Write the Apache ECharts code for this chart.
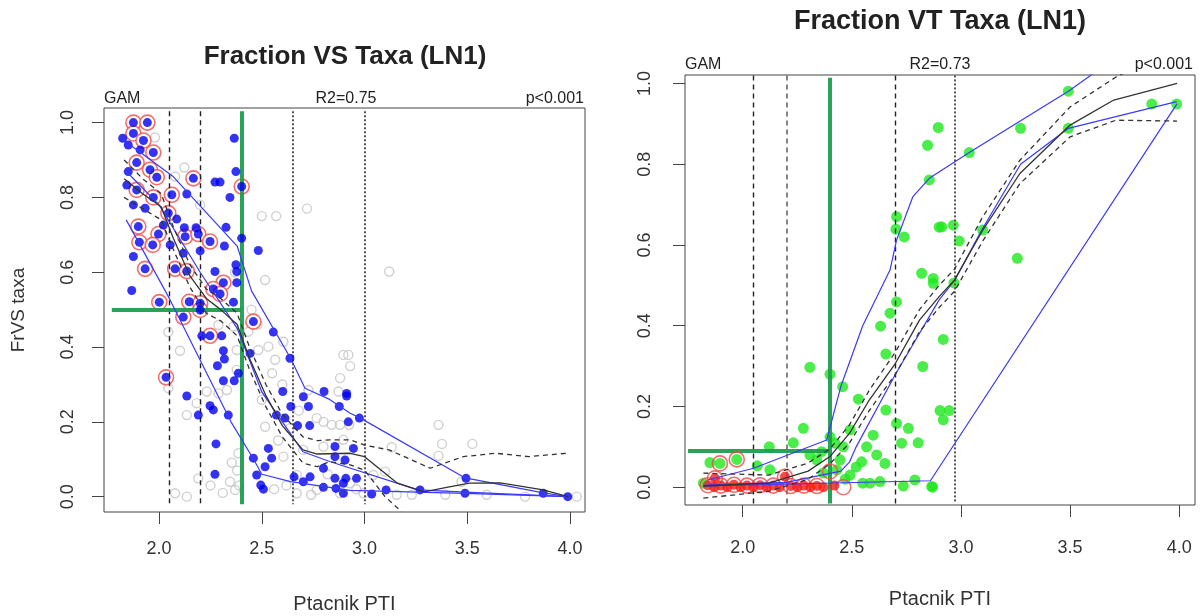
<!DOCTYPE html>
<html>
<head>
<meta charset="utf-8">
<title>Fraction VS / VT Taxa (LN1)</title>
<script src="https://cdn.jsdelivr.net/npm/echarts@6/dist/echarts.min.js"></script>
<style>
  html, body { margin: 0; padding: 0; background: #fff; }
  #chart { width: 1202px; height: 616px; }
</style>
</head>
<body>
<div id="chart"></div>
<script>
  // ---- data ----
  const xTicks = [2.0, 2.5, 3.0, 3.5, 4.0]
  const yTicks = [0.0, 0.2, 0.4, 0.6, 0.8, 1.0]

  // left panel: Fraction VS Taxa
  const vsGray = [[1.98,0.96],[2.123,0.88],[2.078,0.856],[2.5,0.75],[2.57,0.75],[2.72,0.77],[2.516,0.579],[2.37,0.6],[2.2,0.78],[3.12,0.602],
    [2.045,0.44],[2.102,0.39],[2.045,0.29],[2.135,0.218],[2.183,0.25],[2.232,0.281],[2.289,0.276],[2.33,0.285],[2.378,0.339],[2.378,0.392],
    [2.289,0.459],[2.362,0.455],[2.435,0.441],[2.5,0.259],[2.532,0.401],[2.565,0.366],[2.605,0.414],[2.483,0.392],[2.386,0.116],[2.354,0.091],
    [2.345,0.04],[2.37,0.018],[2.191,0.049],[2.078,0.009],[2.135,0.0],[2.516,0.187],[2.637,0.183],[2.767,0.21],[2.8,0.2],[2.881,0.192],
    [2.881,0.317],[2.921,0.379],[2.727,0.285],[2.67,0.058],[2.67,0.009],[2.767,0.018],[2.881,0.009],[2.8,0.134],[2.702,0.125],[2.605,0.107],
    [2.897,0.379],[2.93,0.349],[2.873,0.281],[2.84,0.192],[2.925,0.192],[2.897,0.152],[3.132,0.132],[3.043,0.058],[3.1,0.067],[3.157,0.005],
    [3.23,0.005],[3.393,0.005],[3.36,0.192],[3.377,0.141],[3.36,0.109],[3.525,0.141],[3.472,0.04],[3.595,0.005],[3.781,0.0],[4.033,0.0],
    [2.995,0.009],[2.93,0.036],[2.38,0.07],[2.39,0.03],[2.31,0.01],[2.25,0.03],[2.45,0.5],[2.48,0.46],[2.55,0.33],[2.6,0.3],
    [2.56,0.02],[2.62,0.03],[2.74,0.005],[2.82,0.06],[2.96,0.02],[2.58,0.15],[2.68,0.23]]
  const vsBlue = [[1.875,1.0],[1.943,1.0],[1.823,0.958],[1.875,0.971],[1.924,0.952],[1.85,0.94],[1.908,0.927],[1.972,0.92],[2.366,0.958],
    [1.891,0.893],[1.956,0.874],[1.989,0.854],[1.85,0.869],[2.167,0.851],[2.272,0.841],[2.297,0.841],[2.374,0.869],[2.402,0.829],
    [1.891,0.82],[1.843,0.833],[2.345,0.8],[1.972,0.8],[2.062,0.807],[2.135,0.809],[1.875,0.78],[1.932,0.771],[2.045,0.758],[2.086,0.742],
    [1.899,0.722],[2.021,0.726],[2.123,0.719],[2.18,0.719],[2.326,0.72],[1.997,0.702],[2.127,0.695],[2.191,0.702],[2.248,0.682],[1.904,0.68],
    [1.969,0.673],[2.054,0.673],[2.402,0.691],[2.318,0.67],[2.483,0.658],[1.875,0.642],[2.118,0.651],[2.2,0.657],[2.374,0.62],[1.932,0.609],
    [2.078,0.609],[2.135,0.603],[2.272,0.602],[2.378,0.602],[1.867,0.551],[2.313,0.572],[2.264,0.555],[2.297,0.542],[2.378,0.572],[2.001,0.52],
    [2.147,0.521],[2.2,0.517],[2.362,0.52],[2.118,0.48],[2.2,0.499],[2.459,0.468],[2.248,0.43],[2.305,0.43],[2.208,0.43],[2.556,0.44],
    [2.313,0.39],[2.318,0.368],[2.284,0.35],[2.637,0.37],[2.386,0.33],[2.313,0.31],[2.366,0.31],[2.034,0.319],[2.135,0.269],[2.248,0.243],
    [2.264,0.232],[2.191,0.218],[2.337,0.218],[2.277,0.141],[2.272,0.06],[2.443,0.383],[2.602,0.281],[2.641,0.241],[2.702,0.267],[2.727,0.241],
    [2.803,0.281],[2.733,0.19],[2.674,0.19],[2.571,0.218],[2.613,0.21],[2.877,0.241],[2.913,0.269],[2.532,0.129],[2.548,0.103],[2.516,0.08],
    [2.459,0.103],[2.475,0.058],[2.495,0.031],[2.508,0.02],[2.657,0.053],[2.702,0.04],[2.735,0.053],[2.8,0.076],[2.856,0.107],[2.861,0.022],
    [2.8,0.025],[2.897,0.036],[2.975,0.21],[2.913,0.276],[2.921,0.2],[2.856,0.134],[2.946,0.129],[2.905,0.098],[2.856,0.049],[2.909,0.049],
    [2.961,0.049],[2.897,0.009],[3.035,0.007],[3.105,0.018],[3.27,0.018],[3.494,0.049],[3.489,0.009],[3.87,0.009],[3.989,0.0]]
  const vsRing = [[1.875,1.0],[1.943,1.0],[1.875,0.971],[1.924,0.952],[1.972,0.92],[1.891,0.893],[1.956,0.874],[1.989,0.854],[2.167,0.851],
    [2.402,0.829],[1.891,0.82],[1.972,0.8],[2.062,0.807],[2.045,0.758],[1.899,0.722],[1.997,0.702],[2.127,0.695],[2.191,0.702],[2.248,0.682],
    [1.904,0.68],[1.969,0.673],[1.932,0.609],[2.078,0.609],[2.135,0.603],[2.313,0.572],[2.264,0.555],[2.297,0.542],[2.001,0.52],[2.147,0.521],
    [2.2,0.517],[2.118,0.48],[2.2,0.499],[2.459,0.468],[2.248,0.43],[2.034,0.319]]
  const vsGam = [[1.83,0.85],[1.92,0.81],[2.01,0.775],[2.07,0.69],[2.15,0.59],[2.23,0.53],[2.3,0.5],[2.38,0.46],[2.44,0.37],[2.52,0.27],
    [2.6,0.19],[2.7,0.125],[2.77,0.114],[2.93,0.116],[3.0,0.107],[3.16,0.036],[3.29,0.013],[3.4,0.025],[3.51,0.036],[3.66,0.037],[3.87,0.018],[3.99,0.0]]
  const vsGamUp = [[1.83,0.9],[1.92,0.85],[2.01,0.81],[2.07,0.72],[2.15,0.62],[2.23,0.555],[2.3,0.53],[2.38,0.49],[2.44,0.4],[2.52,0.3],
    [2.6,0.22],[2.7,0.16],[2.77,0.15],[2.83,0.152],[2.93,0.152],[3.0,0.138],[3.12,0.125],[3.32,0.076],[3.48,0.107],[3.64,0.116],[3.8,0.107],[3.98,0.116]]
  const vsGamLo = [[1.83,0.8],[1.92,0.77],[2.01,0.74],[2.07,0.66],[2.15,0.56],[2.23,0.49],[2.3,0.47],[2.38,0.43],[2.44,0.34],[2.52,0.24],
    [2.6,0.16],[2.7,0.09],[2.77,0.08],[2.83,0.094],[2.93,0.085],[3.0,0.071],[3.1,0.0],[3.18,-0.04]]
  const vsQHigh = [[1.86,0.94],[2.07,0.855],[2.38,0.67],[2.45,0.55],[2.64,0.37],[2.71,0.29],[2.83,0.26],[2.93,0.223],[2.98,0.21],[3.49,0.05],[3.87,0.01],[3.99,0.0]]
  const vsQMid = [[1.84,0.87],[2.0,0.78],[2.2,0.6],[2.38,0.45],[2.5,0.28],[2.6,0.2],[2.7,0.12],[2.83,0.094],[3.26,0.018],[3.49,0.012],[3.99,0.0]]
  const vsQLow = [[1.84,0.74],[2.05,0.53],[2.35,0.2],[2.46,0.1],[2.5,0.06],[2.64,0.04],[2.93,0.017],[3.49,0.009],[3.99,0.0]]
  const vsDashed = [2.05, 2.2]
  const vsDotted = [2.65, 3.0]
  const vsThreshold = [2.4, 0.5]

  // right panel: Fraction VT Taxa
  const vtGreen = [[2.896,0.891],[2.847,0.847],[2.855,0.761],[2.705,0.67],[2.702,0.639],[2.74,0.62],[2.9,0.644],[2.82,0.53],[2.873,0.517],
    [2.873,0.505],[2.705,0.459],[2.675,0.431],[2.632,0.399],[2.656,0.33],[2.825,0.299],[2.308,0.297],[2.4,0.28],[2.458,0.249],[2.53,0.218],
    [2.656,0.191],[2.705,0.158],[2.759,0.146],[2.804,0.11],[2.728,0.109],[2.598,0.129],[2.568,0.1],[2.614,0.08],[2.545,0.063],[2.652,0.059],
    [2.492,0.03],[2.278,0.146],[2.232,0.11],[2.122,0.1],[2.067,0.053],[2.125,0.043],[1.85,0.061],[1.973,0.069],[1.896,0.059],[1.82,0.01],
    [2.4,0.125],[2.423,0.109],[2.461,0.1],[2.492,0.142],[2.362,0.088],[2.308,0.08],[2.339,0.068],[2.446,0.068],[2.431,0.043],[2.369,0.035],
    [2.629,0.014],[2.736,0.003],[2.789,0.018],[2.866,0.002],[2.583,0.01],[3.492,0.981],[3.874,0.949],[3.988,0.949],[3.492,0.889],[3.273,0.889],
    [3.038,0.829],[2.912,0.645],[2.965,0.649],[2.992,0.61],[3.099,0.637],[3.258,0.567],[2.968,0.506],[2.919,0.366],[2.904,0.19],[2.946,0.19],
    [2.919,0.167],[2.87,0.0],[2.52,0.05],[2.47,0.02],[2.55,0.01]]
  const vtRed = [[1.84,0.005],[1.87,0.0],[1.9,0.004],[1.93,0.0],[1.96,0.006],[1.99,0.0],[2.02,0.004],[2.05,0.0],[2.08,0.005],[2.11,0.0],
    [2.14,0.004],[2.17,0.0],[2.22,0.003],[2.25,0.0],[2.28,0.004],[2.31,0.0],[2.34,0.003],[2.37,0.0],[2.42,0.004],[1.873,0.022],[2.194,0.026]]
  const vtRing = [[1.873,0.022],[1.896,0.059],[1.973,0.069],[1.84,0.005],[1.9,0.004],[1.96,0.006],[2.02,0.004],[2.08,0.005],[2.14,0.004],
    [2.194,0.026],[2.22,0.003],[2.28,0.004],[2.34,0.003],[2.4,0.039],[2.461,0.0]]
  const vtGam = [[1.82,0.003],[2.12,0.01],[2.3,0.04],[2.4,0.076],[2.49,0.134],[2.58,0.216],[2.7,0.307],[2.81,0.414],[2.9,0.472],[2.97,0.513],
    [3.1,0.637],[3.27,0.777],[3.5,0.897],[3.7,0.959],[3.99,1.0]]
  const vtGamUp = [[1.82,0.035],[2.12,0.03],[2.3,0.06],[2.4,0.095],[2.49,0.155],[2.58,0.24],[2.7,0.335],[2.81,0.44],[2.9,0.5],[2.97,0.54],
    [3.1,0.67],[3.27,0.81],[3.5,0.942],[3.71,1.016],[3.8,1.04]]
  const vtGamLo = [[1.82,-0.027],[2.12,-0.01],[2.3,0.02],[2.4,0.058],[2.49,0.11],[2.58,0.19],[2.7,0.28],[2.81,0.385],[2.9,0.445],[2.97,0.485],
    [3.1,0.61],[3.27,0.752],[3.5,0.868],[3.71,0.909],[3.99,0.907]]
  const vtQHigh = [[1.84,0.018],[2.05,0.047],[2.385,0.117],[2.45,0.25],[2.55,0.4],[2.675,0.538],[2.705,0.612],[2.78,0.72],[2.855,0.765],
    [3.038,0.829],[3.492,0.981],[3.62,1.03]]
  const vtQMid = [[1.83,0.005],[2.2,0.012],[2.45,0.04],[2.49,0.063],[2.52,0.1],[2.7,0.28],[2.9,0.464],[2.972,0.513],[3.095,0.637],
    [3.273,0.8],[3.492,0.889],[3.988,0.955]]
  const vtQLow = [[1.82,0.003],[2.86,0.016],[3.99,0.95]]
  const vtDashed = [2.05, 2.7]
  const vtDashedGray = [2.2]
  const vtDotted = [2.97]
  const vtThreshold = [2.4, 0.09]

  // ---- chart ----
  const FONT = '"Liberation Sans", Arial, sans-serif'
  const BLUE_LINE = '#3a3aff'
  const GREEN_REF = '#1e9e4e'
  const chart = echarts.init(document.getElementById('chart'), null, { renderer: 'canvas' })

  function xAxisOf(grid, min, max, nameGap, margin){
    return {
      type: 'value', gridIndex: grid, min: min, max: max, position: 'bottom',
      name: 'Ptacnik PTI', nameLocation: 'middle', nameGap: nameGap,
      nameTextStyle: { fontSize: 20, color: '#333', fontFamily: FONT },
      axisLine: { show: false, onZero: false },
      axisTick: { show: true, inside: false, length: 12, customValues: xTicks, lineStyle: { color: '#444' } },
      axisLabel: { customValues: xTicks, margin: margin, fontSize: 18, color: '#333', fontFamily: FONT,
        formatter: v => v.toFixed(1) },
      splitLine: { show: false }
    }
  }
  function yAxisOf(grid, min, max, margin, name){
    return {
      type: 'value', gridIndex: grid, min: min, max: max, position: 'left',
      name: name, nameLocation: 'middle', nameGap: 76, nameRotate: 90,
      nameTextStyle: { fontSize: 19, color: '#333', fontFamily: FONT },
      axisLine: { show: false, onZero: false },
      axisTick: { show: true, inside: false, length: 12, customValues: yTicks, lineStyle: { color: '#444' } },
      axisLabel: { customValues: yTicks, margin: margin, fontSize: 18, color: '#333', fontFamily: FONT, rotate: 90,
        formatter: v => v.toFixed(1) },
      splitLine: { show: false }
    }
  }

  // vertical / horizontal reference lines as markLines
  function refLines(cuts, top, bottom){
    return cuts.map(c => [{ coord: [c, top] }, { coord: [c, bottom] }])
  }
  function refSeries(idx, cuts, top, bottom, color, type, width, z){
    return {
      type: 'line', xAxisIndex: idx, yAxisIndex: idx, data: [], z: z, silent: true,
      markLine: { symbol: 'none', silent: true, label: { show: false }, animation: false,
        lineStyle: { color: color, type: type, width: width },
        data: refLines(cuts, top, bottom) }
    }
  }
  function greenSeries(idx, t, top, bottom, left){
    return {
      type: 'line', xAxisIndex: idx, yAxisIndex: idx, data: [], z: 9, silent: true,
      markLine: { symbol: 'none', silent: true, label: { show: false }, animation: false,
        lineStyle: { color: GREEN_REF, type: 'solid', width: 4, opacity: 0.95 },
        data: [
          [{ coord: [t[0], top] }, { coord: [t[0], bottom] }],
          [{ coord: [left, t[1]] }, { coord: [t[0], t[1]] }]
        ] }
    }
  }
  function lineSeries(idx, data, color, type, width, z){
    return { type: 'line', xAxisIndex: idx, yAxisIndex: idx, data: data, showSymbol: false, symbol: 'none',
      smooth: false, z: z, silent: true, lineStyle: { color: color, type: type, width: width } }
  }
  function scatter(idx, data, size, style, z){
    return { type: 'scatter', xAxisIndex: idx, yAxisIndex: idx, data: data, symbol: 'circle', symbolSize: size,
      itemStyle: style, z: z, silent: true }
  }

  const txt = (text, x, y, align, size, bold) => ({
    type: 'text', x: x, y: y, silent: true,
    style: { text: text, fill: '#222', font: (bold ? 'bold ' : '') + size + 'px ' + FONT, align: align, verticalAlign: 'top' }
  })

  const option = {
    animation: false,
    backgroundColor: '#fff',
    grid: [
      { left: 104, top: 108, width: 481, height: 404, outerBoundsMode: 'none', containLabel: false,
        show: true, borderColor: '#444', borderWidth: 1, backgroundColor: 'transparent' },
      { left: 685, top: 75, width: 510, height: 430, outerBoundsMode: 'none', containLabel: false,
        show: true, borderColor: '#444', borderWidth: 1, backgroundColor: 'transparent' }
    ],
    xAxis: [
      xAxisOf(0, 1.732, 4.073, 82, 28),
      xAxisOf(1, 1.736, 4.072, 84, 34)
    ],
    yAxis: [
      yAxisOf(0, -0.041, 1.039, 27, 'FrVS taxa'),
      yAxisOf(1, -0.044, 1.021, 31, '')
    ],
    graphic: [
      txt('Fraction VS Taxa (LN1)', 345, 44, 'center', 26, true),
      txt('Fraction VT Taxa (LN1)', 940, 8, 'center', 27, true),
      txt('GAM', 104, 91, 'left', 16),
      txt('R2=0.75', 346, 91, 'center', 16),
      txt('p<0.001', 584, 91, 'right', 16),
      txt('GAM', 685, 57, 'left', 16),
      txt('R2=0.73', 940, 57, 'center', 16),
      txt('p<0.001', 1193, 57, 'right', 16)
    ],
    series: [
      // left panel
      refSeries(0, vsDashed, 1.03, -0.02, '#222', [5, 4], 1.4, 2),
      refSeries(0, vsDotted, 1.03, -0.02, '#555', [2, 2], 2, 2),
      scatter(0, vsGray, 9, { color: 'transparent', borderColor: '#c4c4c4', borderWidth: 1.4 }, 3),
      scatter(0, vsRing, 15, { color: '#fff', borderColor: '#f04848', borderWidth: 1.6 }, 4),
      scatter(0, vsBlue, 9, { color: '#0000ee' }, 5),
      lineSeries(0, vsQHigh, BLUE_LINE, 'solid', 1.2, 6),
      lineSeries(0, vsQMid, BLUE_LINE, 'solid', 1.2, 6),
      lineSeries(0, vsQLow, BLUE_LINE, 'solid', 1.2, 6),
      lineSeries(0, vsGamUp, '#333', [5, 4], 1.3, 7),
      lineSeries(0, vsGamLo, '#333', [5, 4], 1.3, 7),
      lineSeries(0, vsGam, '#333', 'solid', 1.3, 7),
      greenSeries(0, vsThreshold, 1.03, -0.02, 1.77),
      // right panel
      refSeries(1, vtDashed, 1.02, -0.04, '#222', [5, 4], 1.4, 2),
      refSeries(1, vtDashedGray, 1.02, -0.04, '#666', [5, 4], 1.6, 2),
      refSeries(1, vtDotted, 1.02, -0.04, '#555', [2, 2], 2, 2),
      scatter(1, vtGreen, 11, { color: '#1ee81e' }, 4),
      scatter(1, vtRing, 15, { color: 'transparent', borderColor: '#f04848', borderWidth: 1.6 }, 5),
      scatter(1, vtRed, 10, { color: '#f41c1c' }, 5),
      lineSeries(1, vtQHigh, BLUE_LINE, 'solid', 1.2, 6),
      lineSeries(1, vtQMid, BLUE_LINE, 'solid', 1.2, 6),
      lineSeries(1, vtQLow, BLUE_LINE, 'solid', 1.2, 6),
      lineSeries(1, vtGamUp, '#333', [5, 4], 1.3, 7),
      lineSeries(1, vtGamLo, '#333', [5, 4], 1.3, 7),
      lineSeries(1, vtGam, '#333', 'solid', 1.3, 7),
      greenSeries(1, vtThreshold, 1.014, -0.04, 1.75)
    ]
  }
  chart.setOption(option)
</script>
</body>
</html>
